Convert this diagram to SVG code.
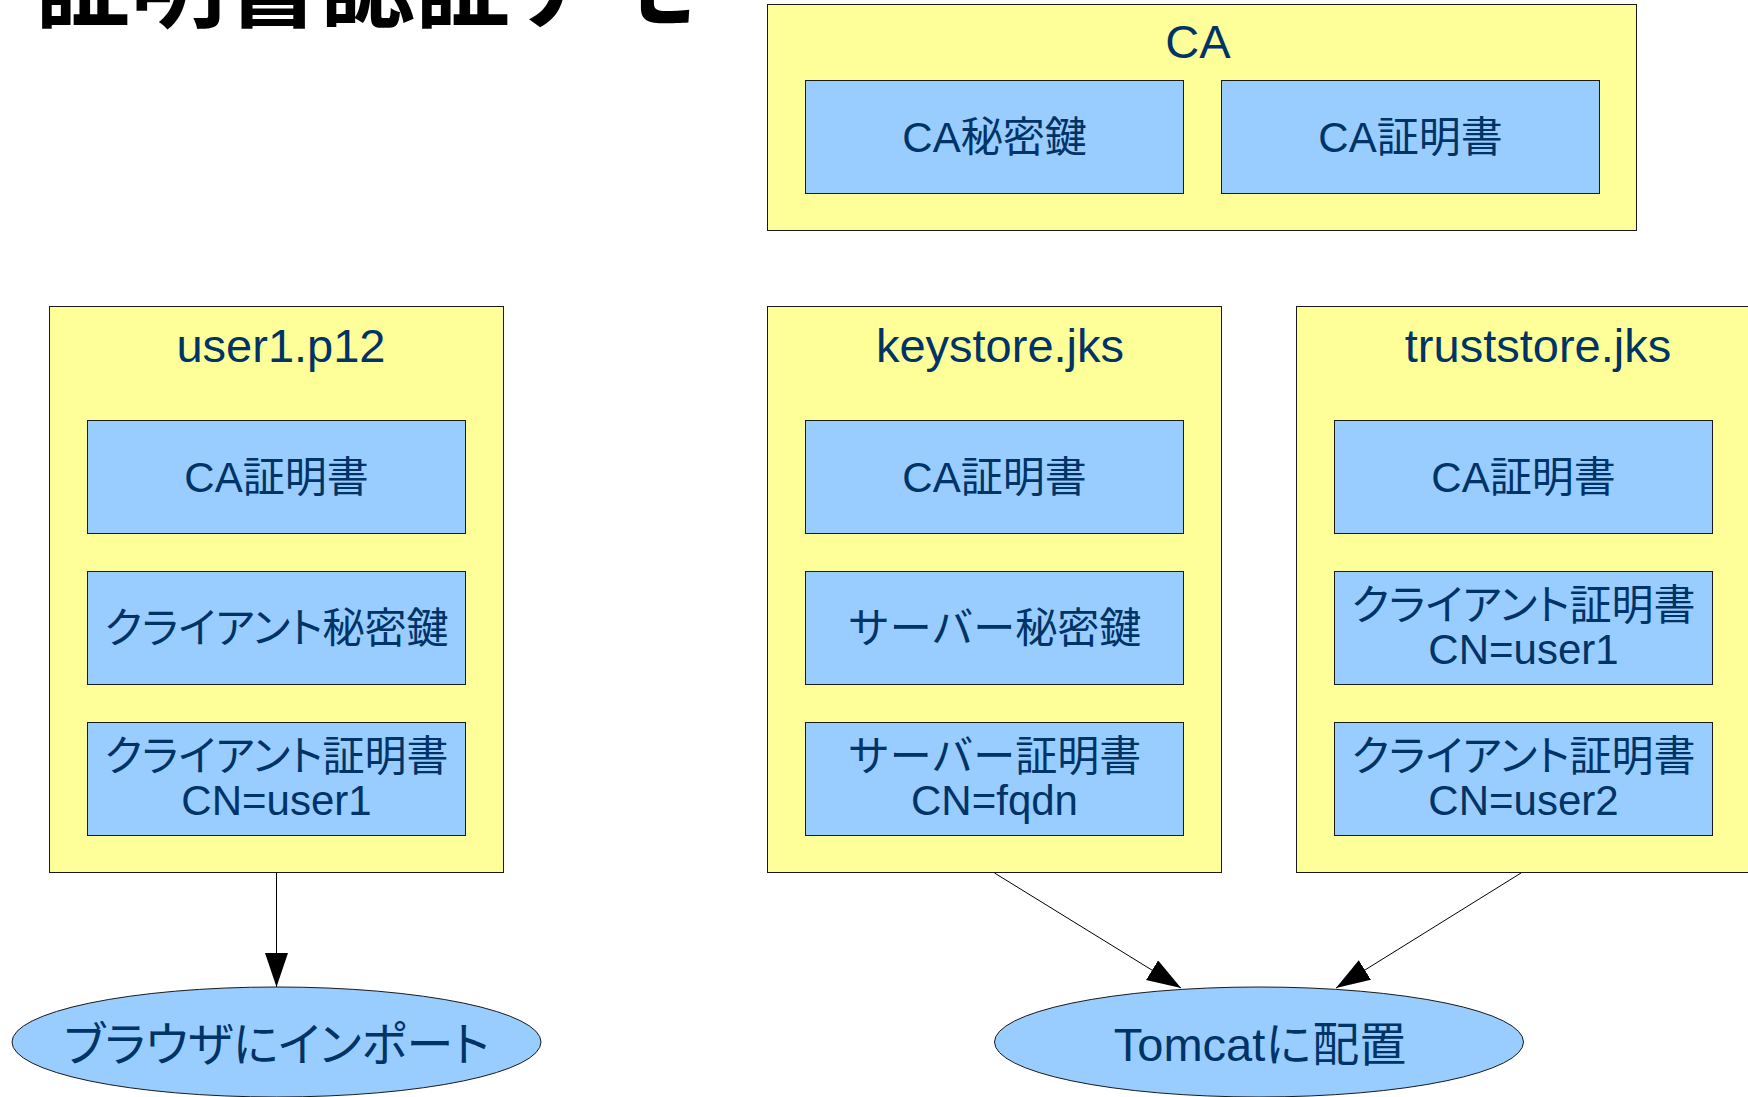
<svg xmlns="http://www.w3.org/2000/svg" width="1748" height="1097" viewBox="0 0 1748 1097">
  <defs>
    <style>
      .cont { fill: #ffff99; stroke: #1a1a1a; stroke-width: 1; }
      .item { fill: #99ccff; stroke: #1a1a1a; stroke-width: 1; }
      .ell { fill: #99ccff; stroke: #1a1a1a; stroke-width: 1; }
      text { font-family: "Liberation Sans", "Noto Sans CJK JP", sans-serif; fill: #003366; text-anchor: middle; }
      .h { font-size: 47px; }
      .t { font-size: 42px; }
      .p { font-feature-settings: "palt"; }
      .title { font-family: "Noto Sans CJK JP", sans-serif; font-size: 95px; font-weight: bold; fill: #000000; text-anchor: start; }
      .conn line { stroke: #000000; stroke-width: 1; fill: none; }
    </style>
    <marker id="arr" markerUnits="userSpaceOnUse" markerWidth="36" markerHeight="24" refX="34" refY="11.5" orient="auto">
      <path d="M0,0 L34,11.5 L0,23 Z" fill="#000000"/>
    </marker>
  </defs>
  <rect x="0" y="0" width="1748" height="1097" fill="#ffffff"/>

  <text class="title" x="35" y="20">証明書認証デモ</text>

  <g id="ca">
    <rect class="cont" x="767.5" y="4.5" width="869" height="226"/>
    <text class="h" x="1198" y="58">CA</text>
    <g id="ca-key">
      <rect class="item" x="805.5" y="80.5" width="378" height="113"/>
      <text class="t" x="994.5" y="152">CA秘密鍵</text>
    </g>
    <g id="ca-cert">
      <rect class="item" x="1221.5" y="80.5" width="378" height="113"/>
      <text class="t" x="1410.5" y="152">CA証明書</text>
    </g>
  </g>

  <g id="user1-p12">
    <rect class="cont" x="49.5" y="306.5" width="454" height="566"/>
    <text class="h" x="281" y="362">user1.p12</text>
    <g id="user1-ca-cert">
      <rect class="item" x="87.5" y="420.5" width="378" height="113"/>
      <text class="t" x="276.5" y="492">CA証明書</text>
    </g>
    <g id="user1-client-key">
      <rect class="item" x="87.5" y="571.5" width="378" height="113"/>
      <text class="t p" x="276.5" y="643">クライアント秘密鍵</text>
    </g>
    <g id="user1-client-cert">
      <rect class="item" x="87.5" y="722.5" width="378" height="113"/>
      <text class="t p" x="276.5" y="771">クライアント証明書</text>
      <text class="t" x="276.5" y="815">CN=user1</text>
    </g>
  </g>

  <g id="keystore">
    <rect class="cont" x="767.5" y="306.5" width="454" height="566"/>
    <text class="h" x="1000" y="362">keystore.jks</text>
    <g id="ks-ca-cert">
      <rect class="item" x="805.5" y="420.5" width="378" height="113"/>
      <text class="t" x="994.5" y="492">CA証明書</text>
    </g>
    <g id="ks-server-key">
      <rect class="item" x="805.5" y="571.5" width="378" height="113"/>
      <text class="t" x="994.5" y="643">サーバー秘密鍵</text>
    </g>
    <g id="ks-server-cert">
      <rect class="item" x="805.5" y="722.5" width="378" height="113"/>
      <text class="t" x="994.5" y="771">サーバー証明書</text>
      <text class="t" x="994.5" y="815">CN=fqdn</text>
    </g>
  </g>

  <g id="truststore">
    <rect class="cont" x="1296.5" y="306.5" width="454" height="566"/>
    <text class="h" x="1538" y="362">truststore.jks</text>
    <g id="ts-ca-cert">
      <rect class="item" x="1334.5" y="420.5" width="378" height="113"/>
      <text class="t" x="1523.5" y="492">CA証明書</text>
    </g>
    <g id="ts-user1-cert">
      <rect class="item" x="1334.5" y="571.5" width="378" height="113"/>
      <text class="t p" x="1523.5" y="620">クライアント証明書</text>
      <text class="t" x="1523.5" y="664">CN=user1</text>
    </g>
    <g id="ts-user2-cert">
      <rect class="item" x="1334.5" y="722.5" width="378" height="113"/>
      <text class="t p" x="1523.5" y="771">クライアント証明書</text>
      <text class="t" x="1523.5" y="815">CN=user2</text>
    </g>
  </g>

  <g id="browser-import">
    <ellipse class="ell" cx="276.5" cy="1042" rx="264.5" ry="55"/>
    <text class="h p" x="276.5" y="1061">ブラウザにインポート</text>
  </g>

  <g id="tomcat-deploy">
    <ellipse class="ell" cx="1259" cy="1042" rx="264.5" ry="55"/>
    <text class="h" x="1260" y="1061">Tomcatに配置</text>
  </g>

  <g id="connectors" class="conn">
    <line x1="276.5" y1="873" x2="276.5" y2="987" marker-end="url(#arr)"/>
    <line x1="994.5" y1="873" x2="1181" y2="988" marker-end="url(#arr)"/>
    <line x1="1521" y1="873" x2="1336" y2="988" marker-end="url(#arr)"/>
  </g>
</svg>
